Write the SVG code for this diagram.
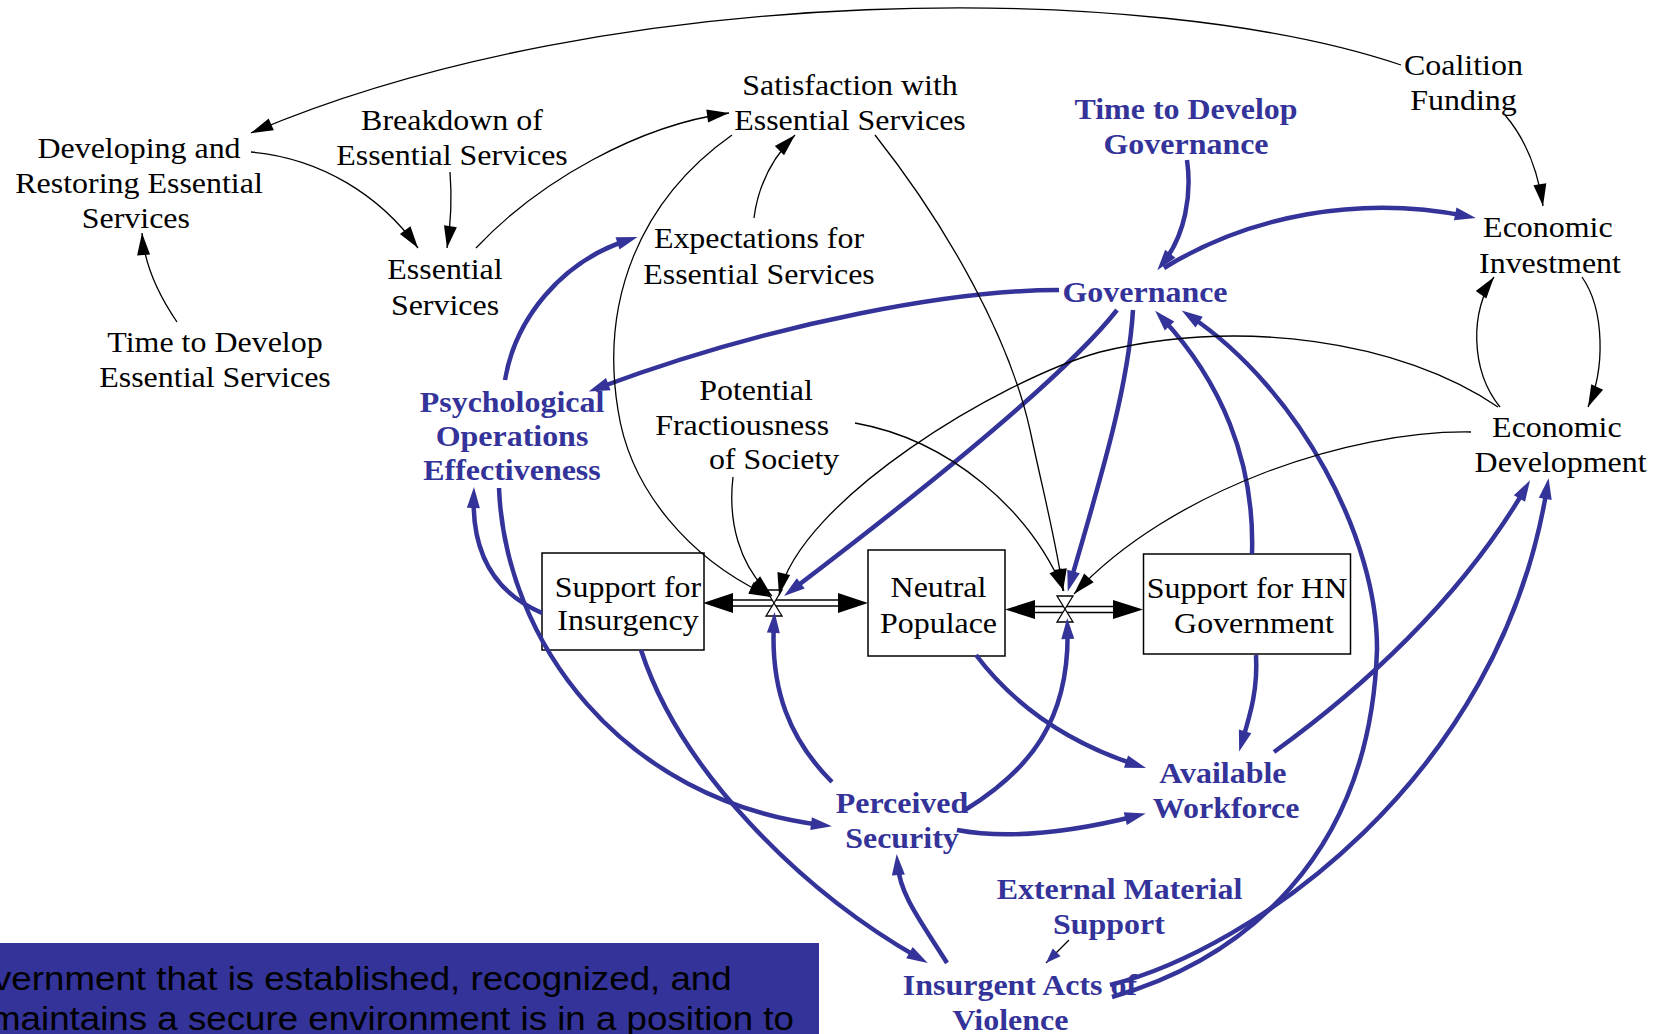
<svg xmlns="http://www.w3.org/2000/svg" width="1662" height="1034" viewBox="0 0 1662 1034">
<style>
.t{font-family:"Liberation Serif","Times New Roman",serif;font-size:30px;fill:#000;text-anchor:middle}
.b{font-weight:bold;fill:#333399}
.c{fill:none;stroke:#000;stroke-width:1.3}
.u{fill:none;stroke:#333399;stroke-width:4.5}
.box{fill:#fff;stroke:#000;stroke-width:1.5}
.pipe{fill:none;stroke:#000;stroke-width:1.5}
.valve{fill:#fff;stroke:#000;stroke-width:1.3}
.ban{font-family:"Liberation Sans",Arial,sans-serif;font-size:34px;fill:#000}
</style>
<defs>
<marker id="ab" viewBox="0 -7 22 14" refX="22" refY="0" markerWidth="22" markerHeight="14" markerUnits="userSpaceOnUse" orient="auto" overflow="visible"><path d="M0,-6.5 L22,0 L0,6.5 z" fill="#000"/></marker>
<marker id="au" viewBox="0 -7 22 14" refX="11" refY="0" markerWidth="22" markerHeight="14" markerUnits="userSpaceOnUse" orient="auto" overflow="visible"><path d="M0,-6.5 L21,0 L0,6.5 z" fill="#333399"/></marker>
<marker id="as" viewBox="0 -6 15 12" refX="15" refY="0" markerWidth="15" markerHeight="12" markerUnits="userSpaceOnUse" orient="auto" overflow="visible"><path d="M0,-5.5 L15,0 L0,5.5 z" fill="#333399"/></marker>
</defs>
<rect width="1662" height="1034" fill="#fff"/>

<g id="n-developing"><text class="t" transform="translate(139,158) scale(1.065,1)"><tspan x="0">Developing and</tspan><tspan x="0" dy="35">Restoring Essential</tspan><tspan x="-3" dy="35">Services</tspan></text></g>
<g id="n-breakdown"><text class="t" transform="translate(452,130) scale(1.065,1)"><tspan x="0">Breakdown of</tspan><tspan x="0" dy="35.5">Essential Services</tspan></text></g>
<g id="n-essential"><text class="t" transform="translate(445,279) scale(1.065,1)"><tspan x="0">Essential</tspan><tspan x="0" dy="36">Services</tspan></text></g>
<g id="n-time-es"><text class="t" transform="translate(215,352) scale(1.065,1)"><tspan x="0">Time to Develop</tspan><tspan x="0" dy="35">Essential Services</tspan></text></g>
<g id="n-satisfaction"><text class="t" transform="translate(850,95) scale(1.065,1)"><tspan x="0">Satisfaction with</tspan><tspan x="0" dy="35.5">Essential Services</tspan></text></g>
<g id="n-expectations"><text class="t" transform="translate(759,248) scale(1.065,1)"><tspan x="0">Expectations for</tspan><tspan x="0" dy="36">Essential Services</tspan></text></g>
<g id="n-potential"><text class="t" transform="translate(756,400) scale(1.065,1)"><tspan x="0">Potential</tspan><tspan x="-13" dy="35">Fractiousness</tspan><tspan x="17" dy="34">of Society</tspan></text></g>
<g id="n-psyops"><text class="t b" transform="translate(512,412) scale(1.065,1)"><tspan x="0">Psychological</tspan><tspan x="0" dy="34">Operations</tspan><tspan x="0" dy="34">Effectiveness</tspan></text></g>
<g id="n-time-gov"><text class="t b" transform="translate(1186,118.5) scale(1.065,1)"><tspan x="0">Time to Develop</tspan><tspan x="0" dy="35.5">Governance</tspan></text></g>
<g id="n-coalition"><text class="t" transform="translate(1463.5,75) scale(1.065,1)"><tspan x="0">Coalition</tspan><tspan x="0" dy="35">Funding</tspan></text></g>
<g id="n-econ-inv"><text class="t" transform="translate(1550,237) scale(1.065,1)"><tspan x="-2">Economic</tspan><tspan x="0" dy="35.7">Investment</tspan></text></g>
<g id="n-governance"><text class="t b" transform="translate(1145,302) scale(1.065,1)">Governance</text></g>
<g id="n-econ-dev"><text class="t" transform="translate(1559,437) scale(1.065,1)"><tspan x="-2">Economic</tspan><tspan x="1.5" dy="35">Development</tspan></text></g>

<g id="n-support-insurgency"><rect class="box" x="542" y="553" width="162" height="97"/><text class="t" transform="translate(628,597) scale(1.065,1)"><tspan x="0">Support for</tspan><tspan x="0" dy="33">Insurgency</tspan></text></g>
<g id="n-neutral"><rect class="box" x="868" y="550" width="137" height="106"/><text class="t" transform="translate(938.5,597) scale(1.065,1)"><tspan x="0">Neutral</tspan><tspan x="0" dy="36">Populace</tspan></text></g>
<g id="n-support-hn"><rect class="box" x="1143.5" y="554" width="207" height="100"/><text class="t" transform="translate(1247,598) scale(1.065,1)"><tspan x="0">Support for HN</tspan><tspan x="6.5" dy="35">Government</tspan></text></g>

<g id="n-perceived"><text class="t b" transform="translate(902,813) scale(1.065,1)"><tspan x="0">Perceived</tspan><tspan x="0" dy="35.5">Security</tspan></text></g>
<g id="n-workforce"><text class="t b" transform="translate(1224,783) scale(1.065,1)"><tspan x="-1">Available</tspan><tspan x="2" dy="35.5">Workforce</tspan></text></g>
<g id="n-external"><text class="t b" transform="translate(1119.5,898.5) scale(1.065,1)"><tspan x="0">External Material</tspan><tspan x="-10" dy="35.5">Support</tspan></text></g>
<g id="n-insurgent"><text class="t b" transform="translate(1020,995) scale(1.065,1)"><tspan x="0">Insurgent Acts of</tspan><tspan x="-9" dy="35">Violence</tspan></text></g>

<g id="flow-1">
<line class="pipe" x1="730" y1="600" x2="840" y2="600"/>
<line class="pipe" x1="730" y1="606" x2="840" y2="606"/>
<path d="M703,603 L733,593 L733,613 z" fill="#000"/>
<path d="M868,603 L838,593 L838,613 z" fill="#000"/>
<path class="valve" d="M766,590 L782,590 L766,616 L782,616 z"/>
</g>
<g id="flow-2">
<line class="pipe" x1="1031" y1="606.5" x2="1117" y2="606.5"/>
<line class="pipe" x1="1031" y1="612.5" x2="1117" y2="612.5"/>
<path d="M1005,609.5 L1035,600 L1035,619 z" fill="#000"/>
<path d="M1143,609.5 L1113,600 L1113,619 z" fill="#000"/>
<path class="valve" d="M1057,596 L1073,596 L1057,622 L1073,622 z"/>
</g>

<g id="connectors">
<path class="u" marker-end="url(#au)" d="M1187,160 C1192,195 1185,235 1163.5,262.4"/>
<path class="u" marker-end="url(#au)" d="M1164,268 C1250,215 1360,195 1466,216"/>
<path class="u" marker-end="url(#au)" d="M1059,290 C960,290 780,320 598,388"/>
<path class="u" marker-end="url(#au)" d="M505,380 C515,320 560,262 628,240"/>
<path class="u" marker-end="url(#au)" d="M1117,310 C1070,370 950,470 792,590"/>
<path class="u" marker-end="url(#au)" d="M1133,310 C1128,390 1100,480 1070.5,582"/>
<path class="u" marker-end="url(#au)" d="M1252,554 C1255,460 1220,380 1162,318"/>
<path class="u" marker-end="url(#au)" d="M1112,997 C1240,960 1370,860 1377,650 C1378,540 1300,390 1190,316"/>
<path class="u" marker-end="url(#au)" d="M1110,985 C1250,950 1500,780 1547,488"/>
<path class="u" marker-end="url(#au)" d="M1274,752 C1360,690 1460,600 1525,489"/>
<path class="u" marker-end="url(#au)" d="M542,613 C500,595 472,560 473.7,497"/>
<path class="u" marker-end="url(#au)" d="M499,488 C505,640 620,800 822,825"/>
<path class="u" marker-end="url(#au)" d="M641,650 C680,770 800,890 919,958"/>
<path class="u" marker-end="url(#au)" d="M832,782 C790,740 770,690 774,622"/>
<path class="u" marker-end="url(#au)" d="M965,810 C1030,770 1070,720 1067.5,628"/>
<path class="u" marker-end="url(#au)" d="M957,830 C1000,838 1060,835 1136,816"/>
<path class="u" marker-end="url(#au)" d="M976,655 C1010,700 1060,740 1136.5,765"/>
<path class="u" marker-end="url(#au)" d="M1256,655 C1258,690 1250,715 1242,742"/>
<path class="u" marker-end="url(#au)" d="M947,963 C920,920 900,895 897.5,864"/>

<path class="c" marker-end="url(#ab)" d="M1401,65 C1150,-20 610,-20 251,133"/>
<path class="c" marker-end="url(#ab)" d="M177,322 Q145,275 142,233"/>
<path class="c" marker-end="url(#ab)" d="M251,152 C320,158 380,195 418,248"/>
<path class="c" marker-end="url(#ab)" d="M450,172 Q453,210 447,248"/>
<path class="c" marker-end="url(#ab)" d="M476,248 C540,180 640,125 729,113"/>
<path class="c" marker-end="url(#ab)" d="M754,218 Q760,170 795,135"/>
<path class="c" marker-end="url(#ab)" d="M732,135 C640,200 600,300 618,410 C630,490 690,560 771,597"/>
<path class="c" marker-end="url(#ab)" d="M733,477 C728,520 738,565 772,596"/>
<path class="c" marker-end="url(#ab)" d="M1498,407 C1400,340 1240,318 1100,352 C1000,380 800,500 779,595"/>
<path class="c" marker-end="url(#ab)" d="M875,135 C950,230 1010,340 1030,430 C1045,500 1058,550 1063,591"/>
<path class="c" marker-end="url(#ab)" d="M855,423 C950,440 1030,510 1064,591"/>
<path class="c" marker-end="url(#ab)" d="M1471,432 C1350,430 1170,490 1074,594"/>
<path class="c" marker-end="url(#ab)" d="M1505,115 Q1535,150 1543,206"/>
<path class="c" marker-end="url(#ab)" d="M1500,407 C1470,370 1470,310 1494,277"/>
<path class="c" marker-end="url(#ab)" d="M1582,277 C1605,310 1605,370 1588,407"/>
<path class="c" marker-end="url(#as)" d="M1069,940 L1046,963"/>
</g>

<g id="banner">
<rect x="0" y="943" width="819" height="91" fill="#333399"/>
<text class="ban" transform="translate(-7,990) scale(1.08,1)">vernment that is established, recognized, and</text>
<text class="ban" transform="translate(-10,1030) scale(1.08,1)">maintains a secure environment is in a position to</text>
</g>
</svg>
